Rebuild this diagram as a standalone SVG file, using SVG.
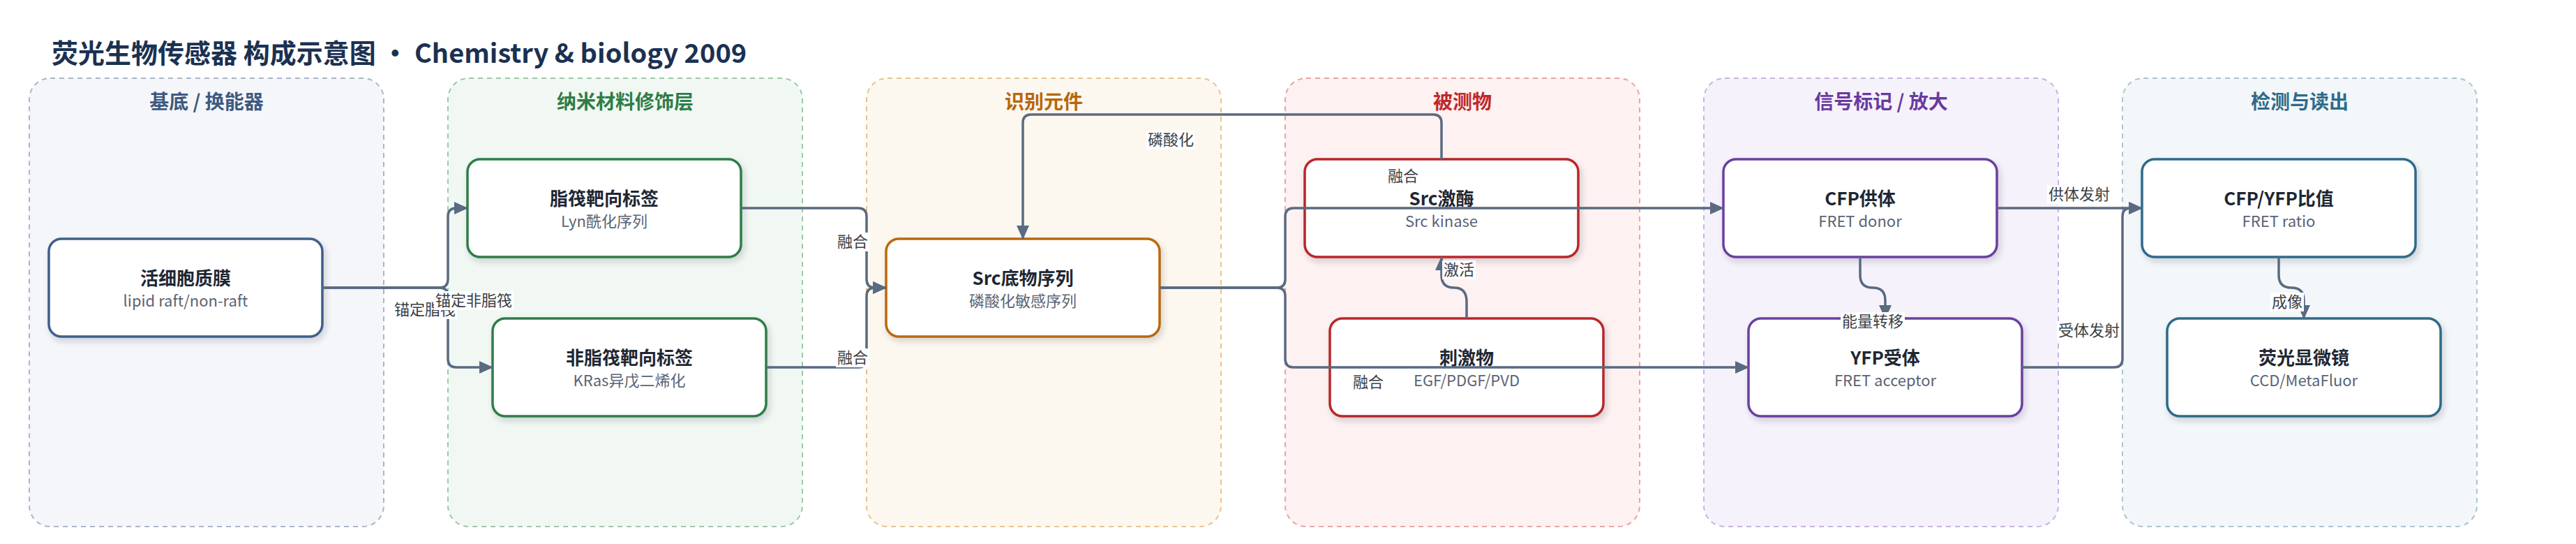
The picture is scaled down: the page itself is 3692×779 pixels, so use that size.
<svg xmlns="http://www.w3.org/2000/svg" width="3692" height="779" viewBox="0 0 3692 779">
<style>
text{font-family:"Noto Sans CJK SC","Noto Sans",sans-serif}
.title{font-size:38px;font-weight:700;fill:#1b3152}
.ct{font-size:28px;font-weight:700;text-anchor:middle}
.cl{stroke-width:2;stroke-dasharray:7 6}
.nb{fill:#ffffff;stroke-width:3.5;filter:url(#sh)}
.nt{font-size:26px;font-weight:700;fill:#1e2733;text-anchor:middle}
.ns{font-size:22px;fill:#5b6475;text-anchor:middle}
.e{fill:none;stroke:#5a6a80;stroke-width:3.5}
.lb{fill:#ffffff}
.lt{font-size:22px;fill:#3a3f47;text-anchor:middle}
</style>
<defs>
<filter id="sh" x="-10%" y="-10%" width="125%" height="135%">
<feDropShadow dx="3" dy="5" stdDeviation="4" flood-color="#1e2a3a" flood-opacity="0.18"/>
</filter>
<marker id="ar" viewBox="0 0 20 18" refX="19" refY="9" markerWidth="20" markerHeight="18" markerUnits="userSpaceOnUse" orient="auto">
<path d="M0,0 L20,9 L0,18 Z" fill="#5a6a80"/>
</marker>
</defs>
<rect width="3692" height="779" fill="#ffffff"/>
<text class="title" x="74" y="90">荧光生物传感器 构成示意图 · Chemistry &amp; biology 2009</text>

<g id="cluster-substrate">
<rect class="cl" x="42" y="112" width="508" height="642" rx="30" fill="#f4f6fa" stroke="#aab6c8"/>
<text class="ct" x="296" y="156" fill="#3d5a80">基底 / 换能器</text>
</g>
<g id="cluster-nano">
<rect class="cl" x="642" y="112" width="508" height="642" rx="30" fill="#f1f8f3" stroke="#9cc9a9"/>
<text class="ct" x="896" y="156" fill="#2e7d46">纳米材料修饰层</text>
</g>
<g id="cluster-recog">
<rect class="cl" x="1242" y="112" width="508" height="642" rx="30" fill="#fdf8ef" stroke="#e8c38e"/>
<text class="ct" x="1496" y="156" fill="#b8660b">识别元件</text>
</g>
<g id="cluster-analyte">
<rect class="cl" x="1842" y="112" width="508" height="642" rx="30" fill="#fdf1f1" stroke="#e9a4a4"/>
<text class="ct" x="2096" y="156" fill="#c0282a">被测物</text>
</g>
<g id="cluster-signal">
<rect class="cl" x="2442" y="112" width="508" height="642" rx="30" fill="#f6f2fb" stroke="#c9b2e2"/>
<text class="ct" x="2696" y="156" fill="#6a3a9f">信号标记 / 放大</text>
</g>
<g id="cluster-detect">
<rect class="cl" x="3042" y="112" width="508" height="642" rx="30" fill="#f3f7f9" stroke="#a9c5d2"/>
<text class="ct" x="3296" y="156" fill="#2e6b8a">检测与读出</text>
</g>

<g id="node-membrane">
<rect class="nb" x="70" y="342" width="392" height="140" rx="18" stroke="#3f5f8a"/>
<text class="nt" x="266" y="408">活细胞质膜</text>
<text class="ns" x="266" y="439">lipid raft/non-raft</text>
</g>
<g id="node-raft">
<rect class="nb" x="670" y="228" width="392" height="140" rx="18" stroke="#2e7d4a"/>
<text class="nt" x="866" y="294">脂筏靶向标签</text>
<text class="ns" x="866" y="325">Lyn酰化序列</text>
</g>
<g id="node-nonraft">
<rect class="nb" x="706" y="456" width="392" height="140" rx="18" stroke="#2e7d4a"/>
<text class="nt" x="902" y="522">非脂筏靶向标签</text>
<text class="ns" x="902" y="553">KRas异戊二烯化</text>
</g>
<g id="node-substrate">
<rect class="nb" x="1270" y="342" width="392" height="140" rx="18" stroke="#b9680c"/>
<text class="nt" x="1466" y="408">Src底物序列</text>
<text class="ns" x="1466" y="439">磷酸化敏感序列</text>
</g>
<g id="node-kinase">
<rect class="nb" x="1870" y="228" width="392" height="140" rx="18" stroke="#b8282a"/>
<text class="nt" x="2066" y="294">Src激酶</text>
<text class="ns" x="2066" y="325">Src kinase</text>
</g>
<g id="node-stimulus">
<rect class="nb" x="1906" y="456" width="392" height="140" rx="18" stroke="#b8282a"/>
<text class="nt" x="2102" y="522">刺激物</text>
<text class="ns" x="2102" y="553">EGF/PDGF/PVD</text>
</g>
<g id="node-cfp">
<rect class="nb" x="2470" y="228" width="392" height="140" rx="18" stroke="#6b3fa0"/>
<text class="nt" x="2666" y="294">CFP供体</text>
<text class="ns" x="2666" y="325">FRET donor</text>
</g>
<g id="node-yfp">
<rect class="nb" x="2506" y="456" width="392" height="140" rx="18" stroke="#6b3fa0"/>
<text class="nt" x="2702" y="522">YFP受体</text>
<text class="ns" x="2702" y="553">FRET acceptor</text>
</g>
<g id="node-ratio">
<rect class="nb" x="3070" y="228" width="392" height="140" rx="18" stroke="#2e6b8a"/>
<text class="nt" x="3266" y="294">CFP/YFP比值</text>
<text class="ns" x="3266" y="325">FRET ratio</text>
</g>
<g id="node-microscope">
<rect class="nb" x="3106" y="456" width="392" height="140" rx="18" stroke="#2e6b8a"/>
<text class="nt" x="3302" y="522">荧光显微镜</text>
<text class="ns" x="3302" y="553">CCD/MetaFluor</text>
</g>

<g id="connectors">
<path class="e" marker-end="url(#ar)" d="M462,412 H630 Q642,412 642,400 V310 Q642,298 654,298 H670"/>
<path class="e" marker-end="url(#ar)" d="M462,412 H630 Q642,412 642,424 V514 Q642,526 654,526 H706"/>
<path class="e" marker-end="url(#ar)" d="M1062,298 H1230 Q1242,298 1242,310 V400 Q1242,412 1254,412 H1270"/>
<path class="e" marker-end="url(#ar)" d="M1098,526 H1230 Q1242,526 1242,514 V424 Q1242,412 1254,412 H1270"/>
<path class="e" marker-end="url(#ar)" d="M2066,228 V176 Q2066,164 2054,164 H1478 Q1466,164 1466,176 V342"/>
<path class="e" marker-end="url(#ar)" d="M1662,412 H1830 Q1842,412 1842,400 V310 Q1842,298 1854,298 H2470"/>
<path class="e" marker-end="url(#ar)" d="M1662,412 H1830 Q1842,412 1842,424 V514 Q1842,526 1854,526 H2506"/>
<path class="e" marker-end="url(#ar)" d="M2102,456 V432 Q2102,412 2084,412 Q2066,412 2066,394 V368"/>
<path class="e" marker-end="url(#ar)" d="M2666,368 V394 Q2666,412 2684,412 Q2702,412 2702,430 V456"/>
<path class="e" marker-end="url(#ar)" d="M2862,298 H3070"/>
<path class="e" marker-end="url(#ar)" d="M2898,526 H3030 Q3042,526 3042,514 V310 Q3042,298 3054,298 H3070"/>
<path class="e" marker-end="url(#ar)" d="M3266,368 V394 Q3266,412 3284,412 Q3302,412 3302,430 V456"/>
<g id="edge-labels">
<rect class="lb" x="563" y="430" width="92" height="27"/><text class="lt" x="609" y="451">锚定脂筏</text>
<rect class="lb" x="622" y="417" width="114" height="27"/><text class="lt" x="679" y="438">锚定非脂筏</text>
<rect class="lb" x="1198" y="333" width="48" height="27"/><text class="lt" x="1222" y="354">融合</text>
<rect class="lb" x="1198" y="499" width="48" height="27"/><text class="lt" x="1222" y="520">融合</text>
<rect class="lb" x="1643" y="187" width="70" height="27"/><text class="lt" x="1678" y="208">磷酸化</text>
<rect class="lb" x="1987" y="239" width="48" height="27"/><text class="lt" x="2011" y="260">融合</text>
<rect class="lb" x="1937" y="534" width="48" height="27"/><text class="lt" x="1961" y="555">融合</text>
<rect class="lb" x="2067" y="373" width="48" height="27"/><text class="lt" x="2091" y="394">激活</text>
<rect class="lb" x="2638" y="447" width="92" height="27"/><text class="lt" x="2684" y="468">能量转移</text>
<rect class="lb" x="2934" y="265" width="92" height="27"/><text class="lt" x="2980" y="286">供体发射</text>
<rect class="lb" x="2948" y="460" width="92" height="27"/><text class="lt" x="2994" y="481">受体发射</text>
<rect class="lb" x="3254" y="419" width="48" height="27"/><text class="lt" x="3278" y="440">成像</text>
</g>
</g>
</svg>
